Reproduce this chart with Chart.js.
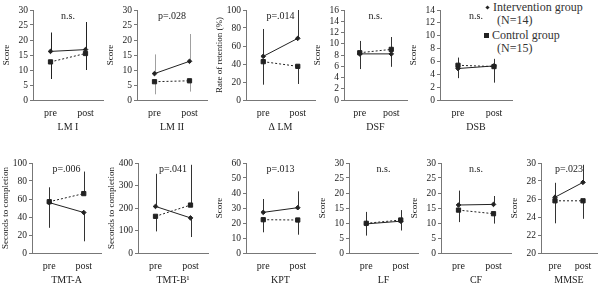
<!DOCTYPE html>
<html>
<head>
<meta charset="utf-8">
<script src="https://cdn.jsdelivr.net/npm/chart.js@4.4.1/dist/chart.umd.min.js"></script>
<style>
    body { margin: 0; width: 600px; height: 287px; background: #fff; position: relative; overflow: hidden; font-family: 'Liberation Serif', serif; color: #222; }
    canvas { position: absolute; }
    #legend { position: absolute; left: 484px; top: 1px; font-size: 12px; line-height: 12.5px; color: #333; }
    #legend .row { margin-bottom: 3px; }
    #legend .sub { padding-left: 13px; }
    .mk { display: inline-block; background: #222; margin-right: 3px; vertical-align: middle; position: relative; top: -1px; }
    .mk.dia { width: 3px; height: 3px; transform: rotate(45deg); margin-left: 2px; margin-right: 4px; }
    .mk.sq { width: 5px; height: 5px; }
</style>
</head>
<body>
<div id="legend">
    <div class="row"><span class="mk dia"></span>Intervention group<div class="sub">(N=14)</div></div>
    <div class="row"><span class="mk sq"></span>Control group<div class="sub">(N=15)</div></div>
</div>
<script>
// data
const periods = ['pre', 'post'];
const panelNames = ['LM I', 'LM II', 'Δ LM', 'DSF', 'DSB', 'TMT-A', 'TMT-B¹', 'KPT', 'LF', 'CF', 'MMSE'];
const pLabels = ['n.s.', 'p=.028', 'p=.014', 'n.s.', 'n.s.', 'p=.006', 'p=.041', 'p=.013', 'n.s.', 'n.s.', 'p=.023'];
const yTitles = ['Score', 'Score', 'Rate of retention (%)', 'Score', 'Score',
    'Seconds to completion', 'Seconds to completion', 'Score', 'Score', 'Score', 'Score'];
const yMin = [0, 0, 0, 0, 0, 0, 0, 0, 0, 0, 20];
const yMax = [30, 30, 100, 16, 14, 100, 400, 60, 30, 30, 30];
const yStep = [5, 5, 20, 2, 2, 20, 100, 10, 5, 5, 2];

const interventionMean = [[16.2, 16.8], [8.8, 12.9], [48.5, 68.5], [8.2, 8.2], [4.9, 5.3],
    [56, 45], [207, 156], [27.1, 30.2], [9.7, 10.6], [16.0, 16.2], [26.2, 27.85]];
const interventionSD = [[6.3, 9.2], [6.4, 9.1], [30.4, 31.5], [2.7, 2.3], [1.5, 1.1],
    [28, 32], [145, 85], [8.9, 10.9], [3.9, 3.1], [4.8, 2.8], [1.6, 1.95]];
const controlMean = [[12.7, 15.5], [6.1, 6.4], [42.6, 37.4], [8.4, 9.0], [5.4, 5.2],
    [57, 66], [163, 213], [22.2, 22.0], [9.9, 11.0], [14.3, 13.1], [25.8, 25.8]];
const controlSD = [[5.7, 5.5], [4.2, 3.6], [25.6, 19.6], [2.1, 2.2], [1.2, 2.5],
    [16, 24.5], [67, 179], [8.4, 9.8], [3.8, 3.3], [4.0, 3.3], [2.5, 2.0]];

// layout: plot area edges in page pixels
const plotLeft = [33, 137, 246, 344, 440, 32, 138, 246, 349, 441, 541];
const plotRight = [104, 208, 316, 408, 513, 102, 209, 316, 419, 512, 598];
const plotTop = [10, 10, 10, 10, 10, 163, 163, 163, 163, 163, 163];
const plotBottom = [100, 100, 100, 100, 100, 253, 253, 253, 253, 253, 253];
const errColors = ['#222', '#a0a0a0', '#333', '#333', '#333', '#333', '#333', '#333', '#333', '#333', '#333'];

const ink = '#222';
const axisColor = '#777';

// whiskers: the higher group at each time point gets its bar upward, the lower one downward
const errorBars = {
    id: 'errorBars',
    beforeDatasetsDraw(chart, args, opts) {
        const ctx = chart.ctx;
        const y = chart.scales.y;
        const dsA = chart.data.datasets[0];
        const dsB = chart.data.datasets[1];
        const metaA = chart.getDatasetMeta(0);
        const metaB = chart.getDatasetMeta(1);
        ctx.save();
        ctx.strokeStyle = opts.color;
        ctx.lineWidth = 1;
        dsA.data.forEach((v, i) => {
            const aUp = v >= dsB.data[i];
            [[dsA, metaA, aUp], [dsB, metaB, !aUp]].forEach(([ds, meta, up]) => {
                const val = ds.data[i];
                const end = up ? val + ds.sd[i] : val - ds.sd[i];
                const x = Math.round(meta.data[i].x) + 0.5;
                ctx.beginPath();
                ctx.moveTo(x, y.getPixelForValue(val));
                ctx.lineTo(x, y.getPixelForValue(end));
                ctx.stroke();
            });
        });
        ctx.restore();
    }
};

// y tick numbers, written from the scale's own ticks
const yTickLabels = {
    id: 'yTickLabels',
    afterDraw(chart) {
        const {ctx} = chart;
        const y = chart.scales.y;
        ctx.save();
        ctx.font = "9.5px 'Liberation Serif'";
        ctx.fillStyle = ink;
        ctx.textAlign = 'right';
        ctx.textBaseline = 'middle';
        y.ticks.forEach((t) => {
            ctx.fillText(String(t.value), y.right - 5, y.getPixelForValue(t.value));
        });
        ctx.restore();
    }
};

const pLabel = {
    id: 'pLabel',
    afterDraw(chart, args, opts) {
        const {ctx, chartArea} = chart;
        ctx.save();
        ctx.font = "10px 'Liberation Serif'";
        ctx.fillStyle = ink;
        ctx.textAlign = 'center';
        ctx.textBaseline = 'middle';
        ctx.fillText(opts.text, (chartArea.left + chartArea.right) / 2, chartArea.top + 6);
        ctx.restore();
    }
};

function makePanel(i) {
    const yAxisW = 32;
    const xAxisH = 33;
    const padTop = 10;
    const padRight = 4;
    const canvas = document.createElement('canvas');
    canvas.width = plotRight[i] - plotLeft[i] + yAxisW + padRight;
    canvas.height = plotBottom[i] - plotTop[i] + padTop + xAxisH;
    canvas.style.left = (plotLeft[i] - yAxisW) + 'px';
    canvas.style.top = (plotTop[i] - padTop) + 'px';
    document.body.appendChild(canvas);

    const tickFont = {family: 'Liberation Serif', size: 10};
    new Chart(canvas, {
        type: 'line',
        data: {
            labels: periods,
            datasets: [
                {
                    label: 'Intervention group (N=14)',
                    data: interventionMean[i],
                    sd: interventionSD[i],
                    borderColor: ink,
                    backgroundColor: ink,
                    borderWidth: 1,
                    pointStyle: 'rectRot',
                    pointRadius: 2.3,
                    pointBorderWidth: 1,
                    fill: false,
                },
                {
                    label: 'Control group (N=15)',
                    data: controlMean[i],
                    sd: controlSD[i],
                    borderColor: ink,
                    backgroundColor: ink,
                    borderWidth: 1,
                    borderDash: [2, 2],
                    pointStyle: 'rect',
                    pointRadius: 3,
                    pointBorderWidth: 1,
                    fill: false,
                },
            ],
        },
        options: {
            responsive: false,
            animation: false,
            devicePixelRatio: 1,
            layout: {padding: {top: padTop, right: padRight, left: 0, bottom: 0}},
            plugins: {
                legend: {display: false},
                tooltip: {enabled: false},
                errorBars: {color: errColors[i]},
                pLabel: {text: pLabels[i]},
            },
            scales: {
                x: {
                    offset: true,
                    grid: {display: false, drawTicks: false},
                    border: {color: axisColor},
                    ticks: {padding: 7, font: tickFont, color: ink},
                    title: {display: true, text: panelNames[i], padding: 0, font: tickFont, color: ink},
                    afterFit: (s) => { s.height = xAxisH; },
                },
                y: {
                    min: yMin[i],
                    max: yMax[i],
                    ticks: {stepSize: yStep[i], autoSkip: false, display: false},
                    grid: {drawOnChartArea: false, tickLength: 3, color: axisColor},
                    border: {color: axisColor},
                    title: {display: true, text: yTitles[i], padding: 0, font: {family: 'Liberation Serif', size: 9}, color: ink},
                    afterBuildTicks: (s) => {
                        const ticks = [];
                        for (let v = yMin[i]; v <= yMax[i] + 1e-9; v += yStep[i]) ticks.push({value: v});
                        s.ticks = ticks;
                    },
                    afterFit: (s) => { s.width = yAxisW; },
                },
            },
        },
        plugins: [errorBars, yTickLabels, pLabel],
    });
}

panelNames.forEach((_, i) => makePanel(i));
</script>
</body>
</html>
